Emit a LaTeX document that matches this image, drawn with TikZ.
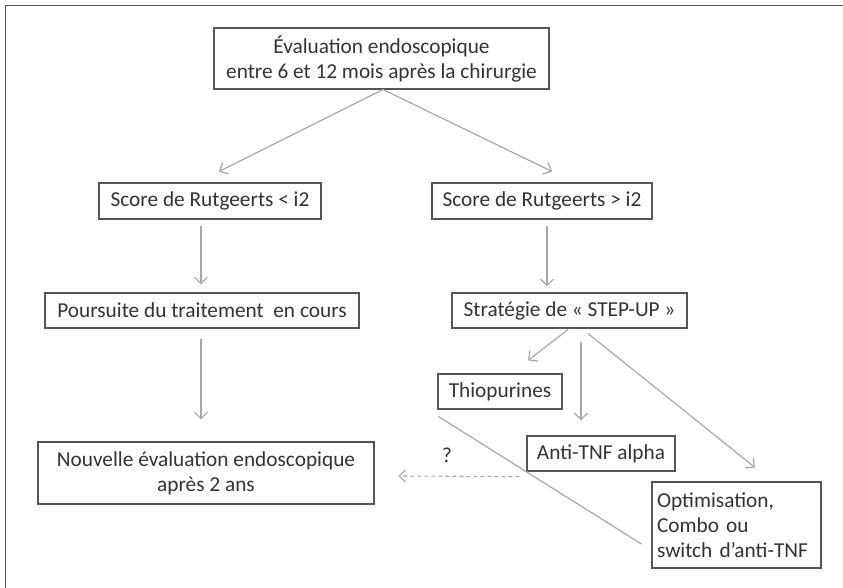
\documentclass[tikz,border=0pt]{standalone}
\usepackage{fontspec}
\setmainfont{Carlito}
\usetikzlibrary{arrows.meta,calc}
\definecolor{txt}{HTML}{333333}
\definecolor{boxc}{HTML}{555555}
\definecolor{arrc}{HTML}{A8A8A8}
\begin{document}
\begin{tikzpicture}[x=1pt,y=-1pt,
  box/.style={draw=boxc,line width=1.1pt,text=txt,inner sep=0pt,minimum width=#1,align=center,
    font=\fontsize{21.3}{25}\selectfont},
  arr/.style={draw=arrc,line width=1.2pt,-{Straight Barb[length=6.5pt,width=13pt,line width=1.2pt]}},
  plain/.style={draw=arrc,line width=1.2pt},
  dashedarr/.style={draw=arrc,line width=1.1pt,dash pattern=on 4pt off 3pt,-{Straight Barb[length=6pt,width=12pt,line width=1.1pt]}}]
\useasboundingbox (0,0) rectangle (843,588);
\draw[boxc,line width=1.5pt] (843,5.5) -- (5.5,5.5) -- (5.5,588);
% nodes
\node[box=335pt,minimum height=61pt] (top) at (381.5,58.5) {Évaluation endoscopique\\entre 6 et 12 mois après la chirurgie};
\node[box=222pt,minimum height=36pt] (ls) at (210,201) {Score de Rutgeerts < i2};
\node[box=220pt,minimum height=36pt] (rs) at (542,201) {Score de Rutgeerts > i2};
\node[box=314pt,minimum height=35pt] (pours) at (202,310.5) {Poursuite du traitement~ en cours};
\node[box=235pt,minimum height=35pt] (strat) at (569.5,310.5) {Stratégie de «~STEP-UP~»};
\node[box=336pt,minimum height=62pt] (nouv) at (206,473) {Nouvelle évaluation endoscopique\\après 2 ans};
\node[box=124pt,minimum height=35pt] (thio) at (500,391.5) {Thiopurines};
\node[box=148pt,minimum height=35pt] (anti) at (601,453.5) {Anti-TNF alpha};
\node[box=169pt,minimum height=86pt,text width=159pt,align=left,inner xsep=5pt] (opt) at (736.5,525) {Optimisation,\\Combo ou\\switch d’anti-TNF};
\node[text=txt,font=\fontsize{21.3}{25}\selectfont,inner sep=0pt] (q) at (447,455) {?};
% connectors
\draw[arr] ($(top.south)+(1.5,0)$) -- ($(ls.north)+(9,-11)$);
\draw[arr] ($(top.south)+(1.5,0)$) -- ($(rs.north)+(10,-11)$);
\draw[arr] ($(ls.south)+(-9,6)$) -- ($(pours.north)+(-1,-8)$);
\draw[arr] ($(pours.south)+(-1,10)$) -- ($(nouv.north)+(-5,-22)$);
\draw[arr] ($(rs.south)+(5,6)$) -- ($(strat.north)+(-22.5,-6)$);
\draw[arr] ($(strat.south)+(-1.5,1)$) -- ($(thio.north)+(28,-13)$);
\draw[arr] ($(strat.south)+(11.5,13)$) -- ($(anti.north)+(-20,-15)$);
\draw[arr] ($(strat.south)+(18.5,5)$) -- ($(opt.north)+(18.5,-14)$);
\draw[dashedarr] ($(anti.south west)+(-7,5)$) -- ($(nouv.east)+(24,3)$);
\draw[plain] ($(thio.south west)+(1,7)$) -- ($(opt.west)+(-10,19)$);
\end{tikzpicture}
\end{document}
